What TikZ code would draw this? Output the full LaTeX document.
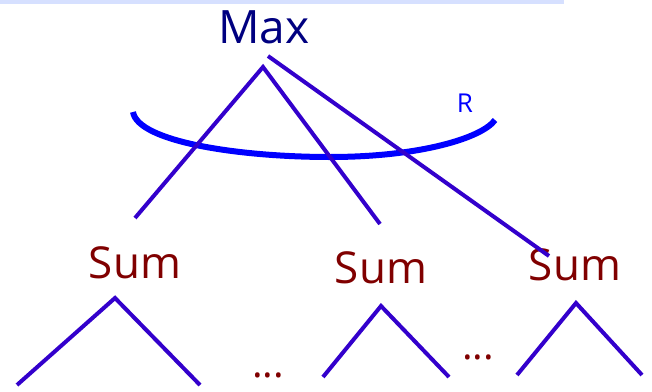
\documentclass[tikz,border=0pt]{standalone}
\usepackage{fontspec}
\setmainfont{Open Sans}
\definecolor{band}{RGB}{214,224,255}
\definecolor{edge}{RGB}{51,0,204}
\definecolor{arcblue}{RGB}{0,0,255}
\definecolor{navy}{RGB}{0,0,128}
\definecolor{maroon}{RGB}{128,0,0}
\begin{document}
\begin{tikzpicture}[x=1pt,y=-1pt,
  edgeline/.style={draw=edge,line width=4pt},
  maxlabel/.style={anchor=base,inner sep=0pt,text=navy,font=\fontsize{46}{50}\selectfont},
  sumlabel/.style={anchor=base,inner sep=0pt,text=maroon,font=\fontsize{44}{48}\selectfont},
  dotslabel/.style={anchor=base,inner sep=0pt,text=maroon,font=\fontsize{40}{44}\selectfont},
  rlabel/.style={anchor=base,inner sep=0pt,text=arcblue,font=\fontsize{26}{30}\selectfont}]
\useasboundingbox (0,0) rectangle (652,391);
\fill[band] (0,0) rectangle (564,4);
% labels
\node[maxlabel] (max) at (264,43) {Max};
\node[sumlabel] (sumA) at (135,278) {Sum};
\node[sumlabel] (sumB) at (381,283) {Sum};
\node[sumlabel] (sumC) at (575,280) {Sum};
\node[rlabel] (r) at (465,112) {R};
\node[dotslabel] (dotsA) at (268,377) {...};
\node[dotslabel] (dotsB) at (478,359) {...};
% tree coordinates
\coordinate (apex) at (263,67);
\coordinate (apexR) at (268,56);
\coordinate (endA) at (135,218);
\coordinate (endB) at (380,224);
\coordinate (endC) at (549,256);
\coordinate (tA) at (115,298);
\coordinate (tAl) at (17,385);
\coordinate (tAr) at (200,385);
\coordinate (tB) at (381,306);
\coordinate (tBl) at (323,377);
\coordinate (tBr) at (449,377);
\coordinate (tC) at (576,303);
\coordinate (tCl) at (517,375);
\coordinate (tCr) at (642,375);
\coordinate (arcL) at (133,112);
\coordinate (arcM) at (330,157);
\coordinate (arcR) at (495,120);
% arc
\draw[arcblue,line width=6pt] (arcL) .. controls (138,142) and (240,157) .. (arcM)
  .. controls (420,157) and (482,138) .. (arcR);
% edges
\draw[edgeline] (endA) -- (apex) -- (endB);
\draw[edgeline] (apexR) -- (endC);
\draw[edgeline] (tAl) -- (tA) -- (tAr);
\draw[edgeline] (tBl) -- (tB) -- (tBr);
\draw[edgeline] (tCl) -- (tC) -- (tCr);
\end{tikzpicture}
\end{document}
